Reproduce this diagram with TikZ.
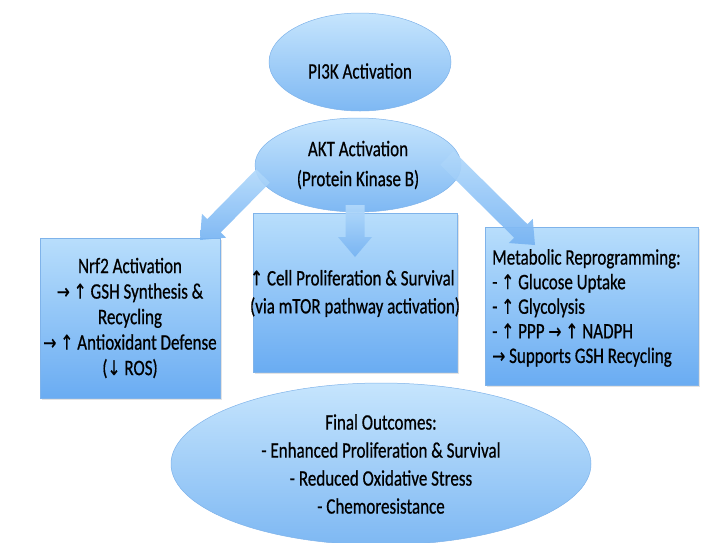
\documentclass[tikz,border=0pt]{standalone}
\usepackage{graphicx}
\usepackage{fontspec}
\setmainfont{Carlito}[FakeBold=0.7]
\newfontfamily\arrfont{DejaVu Sans}[Scale=0.92,FakeBold=0.5]
\newcommand\myup{{\arrfont ↑}}
\newcommand\mydown{{\arrfont ↓}}
\newcommand\myright{{\arrfont →}}
\newcommand\sline[1]{\scalebox{1}[1.3]{#1}}
\usetikzlibrary{calc,shadows,shapes.geometric}
\definecolor{boxtop}{HTML}{B8DEFC}
\definecolor{boxbot}{HTML}{6AACF2}
\definecolor{elltop}{HTML}{C6E5FD}
\definecolor{ellbot}{HTML}{7EB8F3}
\definecolor{edge}{HTML}{7FB3EA}
\definecolor{arrtop}{HTML}{B2D9FB}
\definecolor{arrbot}{HTML}{76B3F2}
\tikzset{
  boxnode/.style={rectangle, draw=edge, line width=0.6pt, top color=boxtop, bottom color=boxbot,
    inner sep=0pt, drop shadow={opacity=0.22, shadow xshift=2pt, shadow yshift=-2pt}},
  ellnode/.style={ellipse, draw=edge, line width=0.5pt, top color=elltop, bottom color=ellbot, inner sep=0pt},
  txt/.style={text=black, font=\fontsize{17}{#1}\selectfont, inner sep=0pt},
  blockarrow/.style={top color=arrtop, bottom color=arrbot, opacity=0.92}
}
\newcommand\blockarr[2]{%
  \coordinate (hb) at ($(#2)!20pt!(#1)$);
  \path[blockarrow] ($(#1)!9.5pt!90:(#2)$) -- ($(hb)!9.5pt!-90:(#1)$) -- ($(hb)!17pt!-90:(#1)$)
    -- (#2) -- ($(hb)!17pt!90:(#1)$) -- ($(hb)!9.5pt!90:(#1)$) -- ($(#1)!9.5pt!-90:(#2)$) -- cycle;
}
\begin{document}
\begin{tikzpicture}[x=1pt,y=-1pt]
\useasboundingbox (0,0) rectangle (709,542);
% boxes
\node[boxnode, minimum width=180pt, minimum height=160pt] (nrf) at (130,318) {};
\node[boxnode, minimum width=204pt, minimum height=159pt] (mid) at (355,292.5) {};
\node[boxnode, minimum width=213pt, minimum height=158pt] (met) at (591.5,306) {};
% ellipses
\node[ellnode, minimum width=182pt, minimum height=98pt] (pi3k) at (360,62) {};
\node[txt=20, yshift=-9pt] (pi3kt) at (pi3k.center) {\sline{PI3K Activation}};
\node[ellnode, minimum width=206pt, minimum height=94pt, align=center, txt=30] (akt) at (358,165)
  {\sline{AKT Activation}\\\sline{(Protein Kinase B)}};
\node[ellnode, minimum width=420pt, minimum height=162pt, align=center, txt=28] (final) at (381,464)
  {\sline{Final Outcomes:}\\\sline{- Enhanced Proliferation \& Survival}\\\sline{- Reduced Oxidative Stress}\\\sline{- Chemoresistance}};
% texts in boxes
\node[txt=25.5, align=center] (nrft) at (nrf.center)
  {\sline{Nrf2 Activation}\\\sline{\myright{} \myup{} GSH Synthesis \&}\\\sline{Recycling}\\\sline{\myright{} \myup{} Antioxidant Defense}\\\sline{(\mydown{} ROS)}};
\node[txt=28, align=left, yshift=-1pt] (midt) at (mid.center)
  {\sline{\myup{} Cell Proliferation \& Survival}\\\sline{(via mTOR pathway activation)}};
\node[txt=24.6, align=left, anchor=west] (mett) at (492,308)
  {\sline{Metabolic Reprogramming:}\\\sline{- \myup{} Glucose Uptake}\\\sline{- \myup{} Glycolysis}\\\sline{- \myup{} PPP \myright{} \myup{} NADPH}\\\sline{\myright{} Supports GSH Recycling}};
% block arrows
\coordinate (ls) at (263,176);
\coordinate (lt) at (200,240);
\coordinate (ms) at (355,205);
\coordinate (mt) at (355,257);
\coordinate (rs) at (447,158);
\coordinate (rt) at (535,245);
\blockarr{ls}{lt}
\blockarr{ms}{mt}
\blockarr{rs}{rt}
\end{tikzpicture}
\end{document}
